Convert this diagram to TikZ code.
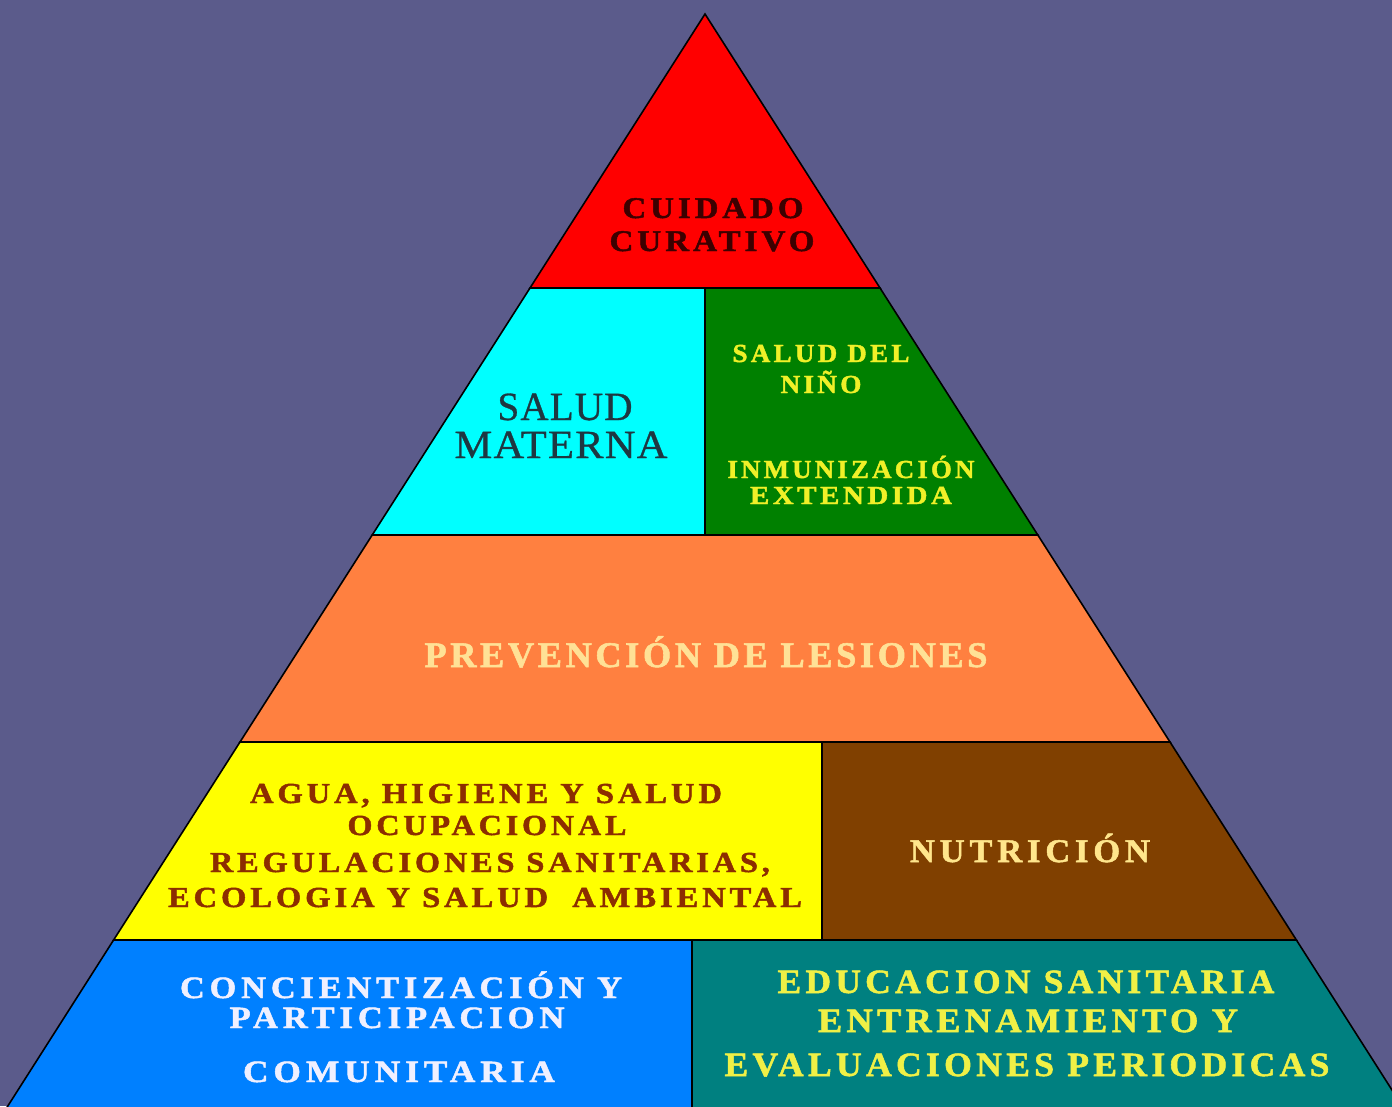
\documentclass[tikz,border=0pt]{standalone}
\usepackage{fontspec}
\usepackage{graphicx}
\setmainfont{Liberation Serif}
\definecolor{bg}{RGB}{91,91,139}
\definecolor{cred}{RGB}{255,0,0}
\definecolor{ccyan}{RGB}{0,255,255}
\definecolor{cgreen}{RGB}{0,128,0}
\definecolor{corange}{RGB}{255,128,64}
\definecolor{cyellow}{RGB}{255,255,0}
\definecolor{cbrown}{RGB}{128,64,0}
\definecolor{cblue}{RGB}{0,128,255}
\definecolor{cteal}{RGB}{0,128,128}
\definecolor{tcur}{RGB}{60,0,0}
\definecolor{tmat}{RGB}{30,55,65}
\definecolor{tgrn}{RGB}{240,240,40}
\definecolor{tprev}{RGB}{255,225,150}
\definecolor{tyel}{RGB}{140,45,0}
\definecolor{tnut}{RGB}{255,230,140}
\definecolor{tblu}{RGB}{240,240,255}
\definecolor{tteal}{RGB}{240,240,70}
\newcommand\fsz[3]{\fontsize{#1}{#2}\selectfont\addfontfeature{LetterSpace=#3}}
\newcommand\fbd[3]{\fontsize{#1}{#2}\selectfont\bfseries\addfontfeature{LetterSpace=#3,FakeBold=1.5}}
\newcommand\wl[2]{\resizebox{#1pt}{\height}{#2}}
\begin{document}
\begin{tikzpicture}[x=1pt,y=-1pt,
  seg/.style={draw=black, line width=1.6pt, line join=miter},
  lbl/.style={inner sep=0pt, anchor=base}]
\useasboundingbox (0,0) rectangle (1392,1106);
\fill[bg] (0,0) rectangle (1392,1106);
\begin{scope}
\clip (0,0) rectangle (1392,1106);
\path[seg, fill=cred] (705,14) -- (880,288) -- (530,288) -- cycle;
\path[seg, fill=ccyan] (530,288) -- (705,288) -- (705,535) -- (372.2,535) -- cycle;
\path[seg, fill=cgreen] (705,288) -- (880,288) -- (1037.8,535) -- (705,535) -- cycle;
\path[seg, fill=corange] (372.2,535) -- (1037.8,535) -- (1170,742) -- (240,742) -- cycle;
\path[seg, fill=cyellow] (240,742) -- (822,742) -- (822,940) -- (113.6,940) -- cycle;
\path[seg, fill=cbrown] (822,742) -- (1170,742) -- (1296.4,940) -- (822,940) -- cycle;
\path[seg, fill=cblue] (113.6,940) -- (692,940) -- (692,1112) -- (4,1112) -- cycle;
\path[seg, fill=cteal] (692,940) -- (1296.4,940) -- (1406,1112) -- (692,1112) -- cycle;
\end{scope}

% top
\tikzset{tc/.style={lbl, text=tcur, font=\fbd{30}{30}{12}}}
\node[tc] (cur1) at (713,218) {\wl{181}{CUIDADO}};
\node[tc] (cur2) at (712,251) {\wl{205}{CURATIVO}};
% cyan
\tikzset{tm/.style={lbl, text=tmat, font=\fsz{40}{40}{3}\addfontfeature{FakeBold=0.8}}}
\node[tm] (mat1) at (565,420) {\wl{135}{SALUD}};
\node[tm] (mat2) at (561,458) {\wl{213}{MATERNA}};
% green
\tikzset{tg/.style={lbl, text=tgrn, font=\fbd{26}{26}{12}}}
\node[tg] (gr1) at (821,362) {\wl{177}{SALUD DEL}};
\node[tg] (gr2) at (821,393) {\wl{81}{NIÑO}};
\node[tg] (gr3) at (851,478) {\wl{247}{INMUNIZACIÓN}};
\node[tg] (gr4) at (851,504) {\wl{202}{EXTENDIDA}};
% orange
\node[lbl, text=tprev, font=\fbd{36}{36}{10}] (prev) at (706,667) {\wl{563}{PREVENCIÓN DE LESIONES}};
% yellow
\tikzset{ty/.style={lbl, text=tyel, font=\fbd{29}{29}{12}}}
\node[ty] (ye1) at (486,803) {\wl{472}{AGUA, HIGIENE Y SALUD}};
\node[ty] (ye2) at (487,835) {\wl{279}{OCUPACIONAL}};
\node[ty] (ye3) at (490,872) {\wl{560}{REGULACIONES SANITARIAS,}};
\node[ty] (ye4) at (485,907) {\wl{634}{ECOLOGIA Y SALUD \ AMBIENTAL}};
% brown
\node[lbl, text=tnut, font=\fbd{33}{33}{14}] (nut) at (1030,862) {\wl{240}{NUTRICIÓN}};
% blue
\tikzset{tb/.style={lbl, text=tblu, font=\fbd{31}{31}{14}}}
\node[tb] (bl1) at (401,998) {\wl{442}{CONCIENTIZACIÓN Y}};
\node[tb] (bl2) at (397,1028) {\wl{335}{PARTICIPACION}};
\node[tb] (bl3) at (399,1082) {\wl{312}{COMUNITARIA}};
% teal
\tikzset{tt/.style={lbl, text=tteal, font=\fbd{34}{34}{12}}}
\node[tt] (te1) at (1026,993) {\wl{497}{EDUCACION SANITARIA}};
\node[tt] (te2) at (1028,1032) {\wl{420}{ENTRENAMIENTO Y}};
\node[tt] (te3) at (1027,1076) {\wl{605}{EVALUACIONES PERIODICAS}};
\end{tikzpicture}
\end{document}
